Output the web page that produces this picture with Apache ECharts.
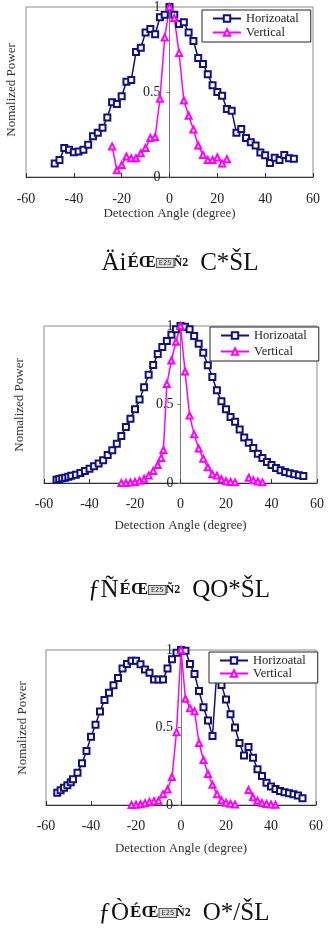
<!DOCTYPE html>
<html>
<head>
<meta charset="utf-8">
<script src="https://cdn.jsdelivr.net/npm/echarts@6/dist/echarts.min.js"></script>
<style>
html,body{margin:0;padding:0;background:#fff;}
#c{width:332px;height:935px;}
</style>
</head>
<body>
<div id="c"></div>
<script>
// ---------- data ----------
const seriesNames = ['Horizoatal', 'Vertical'];
const xTicks = [-60, -40, -20, 0, 20, 40, 60];
const yTicks = [0, 0.5, 1];
const xAxisTitle = 'Detection Angle (degree)';
const yAxisTitle = 'Nomalized Power';

// Chart 1
const ang1H = [-48,-46,-44,-42,-40,-38,-36,-34,-32,-30,-28,-26,-24,-22,-20,-18,-16,-14,-12,-10,-8,-6,-4,-2,0,2,4,6,8,10,12,14,16,18,20,22,24,26,28,30,32,34,36,38,40,42,44,46,48,50,52];
const pow1H = [0.08,0.10,0.17,0.16,0.145,0.15,0.16,0.19,0.24,0.26,0.29,0.35,0.44,0.43,0.475,0.56,0.57,0.735,0.76,0.85,0.87,0.84,0.94,0.955,1.0,0.955,0.90,0.91,0.85,0.80,0.70,0.665,0.605,0.54,0.50,0.478,0.40,0.39,0.26,0.283,0.23,0.205,0.186,0.144,0.128,0.082,0.113,0.10,0.13,0.11,0.107];
const ang1V = [-24,-22,-20,-18,-16,-14,-12,-10,-8,-6,-4,-2,0,2,4,6,8,10,12,14,16,18,20,22,24];
const pow1V = [0.18,0.04,0.07,0.12,0.11,0.11,0.14,0.17,0.23,0.235,0.46,0.82,1.0,0.935,0.73,0.45,0.36,0.28,0.185,0.13,0.10,0.10,0.115,0.08,0.105];

// Chart 2
const ang2H = [-54.5,-53.3,-52,-50.7,-49.3,-48,-46,-44,-42,-40,-38,-36,-34,-32,-30,-28,-26,-24,-22,-20,-18,-16,-14,-12,-10,-8,-6,-4,-2,0,2,4,6,8,10,12,14,16,18,20,22,24,26,28,30,32,34,36,38,40,42,44,46,48,50,52,54];
const pow2H = [0.02,0.025,0.03,0.034,0.04,0.046,0.053,0.064,0.076,0.09,0.106,0.124,0.145,0.178,0.208,0.25,0.30,0.357,0.41,0.47,0.532,0.61,0.69,0.752,0.822,0.866,0.905,0.945,0.98,1.0,0.995,0.98,0.936,0.887,0.83,0.75,0.675,0.59,0.52,0.47,0.42,0.39,0.34,0.29,0.257,0.223,0.187,0.16,0.134,0.114,0.096,0.082,0.07,0.062,0.055,0.05,0.045];
const ang2V = [-26,-24,-22,-20,-18,-16,-14,-12,-10,-8.5,-7.5,-6,-4,-2,0,2,4,6,8,10,12,14,16,18,20,22,24,27,30,32,34,36];
const pow2V = [0,0,0.003,0.006,0.015,0.027,0.047,0.077,0.115,0.16,0.21,0.63,0.78,0.9,1.0,0.71,0.43,0.31,0.22,0.155,0.10,0.055,0.047,0.024,0.011,0.006,0.004,null,0.033,0.017,0.009,0.004];

// Chart 3
const ang3H = [-55,-53.5,-52,-50.5,-49,-48,-46,-44,-42,-40,-38,-36,-34,-32,-30,-28,-26,-24,-22,-20,-18,-16,-14,-12,-10,-8,-6,-4,-2,0,2,4,6,8,10,12,14,16,18,20,22,24,26,28,30,32,34,36,38,40,42,44,46,48,50,52,54];
const pow3H = [0.079,0.095,0.112,0.127,0.146,0.166,0.208,0.269,0.348,0.44,0.518,0.604,0.677,0.725,0.772,0.82,0.88,0.91,0.93,0.93,0.908,0.875,0.854,0.81,0.81,0.81,0.88,0.94,0.983,1.0,0.995,0.91,0.845,0.735,0.63,0.545,0.445,0.88,0.775,0.68,0.585,0.50,0.40,0.32,0.375,0.305,0.23,0.187,0.144,0.12,0.104,0.09,0.083,0.076,0.07,0.062,0.043];
const ang3V = [-22,-20,-18,-16,-14,-12,-10,-8,-6,-4,-2,0,2,4,6,8,10,12,14,16,18,20,22,24,27,30,32,34,36,38,40,42];
const pow3V = [0,0.002,0.005,0.012,0.02,0.025,0.028,0.07,0.1,0.18,0.47,1.0,0.685,0.625,0.605,0.40,0.29,0.20,0.13,0.07,0.03,0.015,0.008,0.004,null,0.097,0.05,0.027,0.013,0.007,0.003,0.001];

// Captions (as shown, garbled)
const captions = [
  ['Äi', 'ÉŒ', 'E25', 'Ñ2', 'C*ŠL'],
  ['ƒÑ', 'ÉŒ', 'E25', 'Ñ2', 'QO*ŠL'],
  ['ƒÒ', 'ÉŒ', 'E25', 'Ñ2', 'O*/ŠL']
];

// ---------- layout ----------
const FONT = '"Liberation Serif", "Times New Roman", serif';
const NAVY = '#10107e';
const MAG = '#ff00ff';
const W = 332;
const panels = [
  {grid:{left:26, right:19, top:2, height:175}, nameGap:26, labelMargin:15, yLabelMargin:9,
   legend:{left:202, top:10, itemGap:1}, yName:{x:12, y:90}, cap:{x:180, y:263}},
  {grid:{left:44, right:15, top:326, height:157}, nameGap:36, labelMargin:14, yLabelMargin:7,
   legend:{left:210, top:327, itemGap:3}, yName:{x:20, y:405}, cap:{x:179, y:590}},
  {grid:{left:46, right:16, top:650, height:155}, nameGap:37, labelMargin:14, yLabelMargin:8,
   legend:{left:209, top:652, itemGap:0}, yName:{x:23, y:728}, cap:{x:184, y:913}}
];
const dataSets = [[ang1H,pow1H,ang1V,pow1V],[ang2H,pow2H,ang2V,pow2V],[ang3H,pow3H,ang3V,pow3V]];

function zip(a, b){ return a.map((x,i)=>[x, b[i]]); }

const option = {
  animation:false,
  backgroundColor:'#fff',
  grid:[], xAxis:[], yAxis:[], legend:[], series:[], graphic:[]
};

panels.forEach((p, i) => {
  option.grid.push(Object.assign({show:true, borderColor:'#8a8a8a', borderWidth:1, backgroundColor:'transparent'}, p.grid));
  const xMin = xTicks[0], xMax = xTicks[xTicks.length-1];
  const gw = W - p.grid.left - p.grid.right;
  // y axis sits on the x = 0 line
  const zeroOffset = gw * (0 - xMin) / (xMax - xMin);
  option.xAxis.push({
    gridIndex:i, type:'value', min:xMin, max:xMax, interval:xTicks[1]-xTicks[0],
    axisLine:{show:true, onZero:false, lineStyle:{color:'#333', width:1}},
    axisTick:{show:true, inside:true, length:4, lineStyle:{color:'#333'}},
    splitLine:{show:false},
    axisLabel:{margin:p.labelMargin, fontFamily:FONT, fontSize:14, color:'#222'},
    name:xAxisTitle, nameLocation:'middle', nameGap:p.nameGap,
    nameTextStyle:{fontFamily:FONT, fontSize:13, color:'#333'}
  });
  option.yAxis.push({
    gridIndex:i, type:'value', position:'left', offset:-zeroOffset,
    min:yTicks[0], max:yTicks[yTicks.length-1], interval:yTicks[1]-yTicks[0],
    axisLine:{show:true, onZero:false, lineStyle:{color:'#777', width:1}},
    axisTick:{show:true, length:3, lineStyle:{color:'#777'}},
    splitLine:{show:false},
    axisLabel:{margin:p.yLabelMargin, fontFamily:FONT, fontSize:14, color:'#222'}
  });
  option.legend.push({
    orient:'vertical', left:p.legend.left, top:p.legend.top, itemGap:p.legend.itemGap,
    padding:[2,12,3,10], itemWidth:28, itemHeight:8,
    backgroundColor:'#fff', borderColor:'#222', borderWidth:1, borderRadius:0,
    data:seriesNames,
    textStyle:{fontFamily:FONT, fontSize:12.5, color:'#222'}
  });
  const d = dataSets[i];
  option.series.push({
    type:'line', name:seriesNames[0], xAxisIndex:i, yAxisIndex:i,
    data:zip(d[0], d[1]), symbol:'emptyRect', symbolSize:6,
    lineStyle:{color:NAVY, width:1.5}, itemStyle:{color:NAVY, borderWidth:1.5}, z:3
  });
  option.series.push({
    type:'line', name:seriesNames[1], xAxisIndex:i, yAxisIndex:i,
    data:zip(d[2], d[3]), symbol:'emptyTriangle', symbolSize:6, connectNulls:false,
    lineStyle:{color:MAG, width:1.5}, itemStyle:{color:MAG, borderWidth:1.2}, z:3
  });
  option.graphic.push({
    type:'text', x:p.yName.x, y:p.yName.y, rotation:Math.PI/2,
    style:{text:yAxisTitle, font:'13px ' + FONT, fill:'#333', align:'center', verticalAlign:'middle'}
  });
  const c = captions[i];
  option.graphic.push({
    type:'text', x:p.cap.x, y:p.cap.y,
    style:{
      text:'{a|' + c[0] + '}{b|' + c[1] + '}{c|' + c[2] + '}{d|' + c[3] + '}{e|' + c[4] + '}',
      align:'center', verticalAlign:'middle',
      rich:{
        a:{fontFamily:FONT, fontSize:25, fill:'#111'},
        b:{fontFamily:FONT, fontSize:17, fontWeight:'bold', fill:'#111', padding:[0,1,0,1]},
        c:{fontFamily:'"DejaVu Sans Mono", monospace', fontSize:7, fill:'#333', borderColor:'#555', borderWidth:1, backgroundColor:'#ddd', padding:[1,2,0,2]},
        d:{fontFamily:FONT, fontSize:12, fontWeight:'bold', fill:'#111', padding:[0,12,0,0]},
        e:{fontFamily:FONT, fontSize:25, fill:'#111'}
      }
    }
  });
});

const chart = echarts.init(document.getElementById('c'), null, {renderer:'canvas'});
chart.setOption(option);
</script>
</body>
</html>
